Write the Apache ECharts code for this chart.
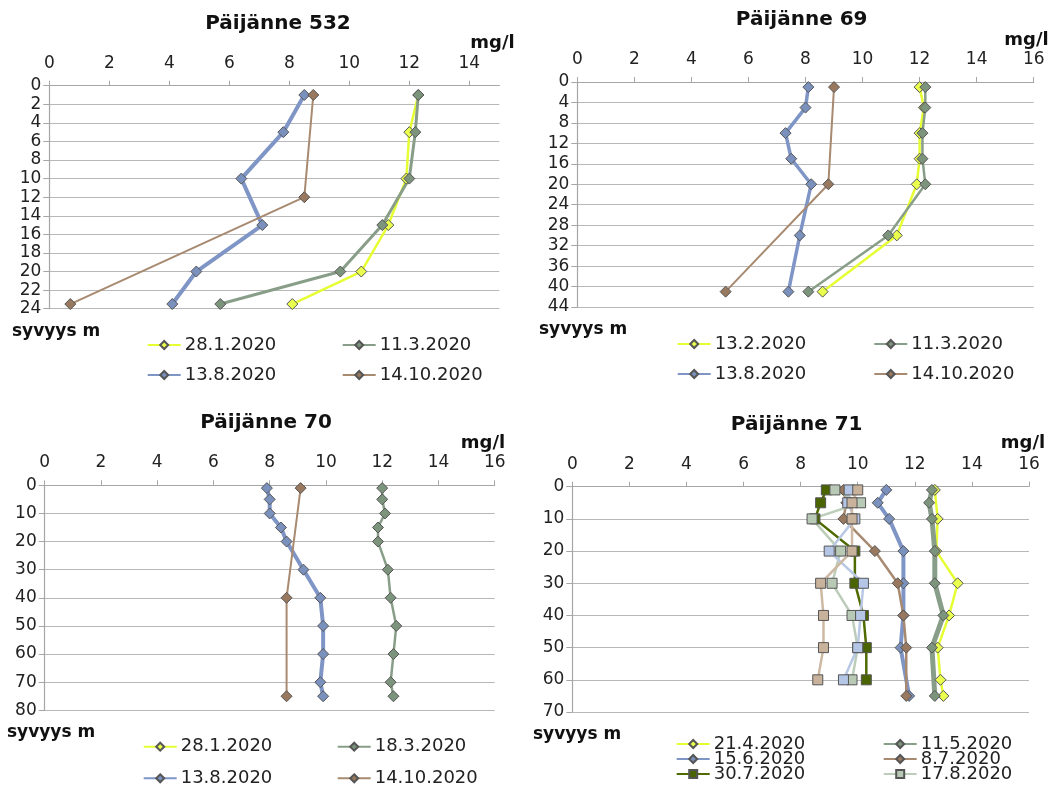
<!DOCTYPE html>
<html>
<head>
<meta charset="utf-8">
<title>Päijänne happi</title>
<script src="https://cdn.jsdelivr.net/npm/echarts@6/dist/echarts.min.js"></script>
<style>
  html, body { margin: 0; padding: 0; background: #fff; }
  #chart { width: 1053px; height: 802px; }
</style>
</head>
<body>
<div id="chart"></div>
<script>
// Päijänne 532
const depth532 = [1, 5, 10, 15, 20, 23.5];
const p532_280120 = [12.3, 12.0, 11.9, 11.3, 10.4, 8.1];
const p532_110320 = [12.3, 12.2, 12.0, 11.1, 9.7, 5.7];
const p532_130820 = [8.5, 7.8, 6.4, 7.1, 4.9, 4.1];
const depth532_141020 = [1, 12, 23.5];
const p532_141020 = [8.8, 8.5, 0.7];

// Päijänne 69
const depth69 = [1, 5, 10, 15, 20, 30, 41];
const p69_130220 = [12.0, 12.15, 12.0, 12.0, 11.9, 11.2, 8.6];
const p69_110320 = [12.2, 12.2, 12.1, 12.1, 12.2, 10.9, 8.1];
const p69_130820 = [8.1, 8.0, 7.3, 7.5, 8.2, 7.8, 7.4];
const depth69_141020 = [1, 20, 41];
const p69_141020 = [9.0, 8.8, 5.2];

// Päijänne 70
const depth70 = [1, 5, 10, 15, 20, 30, 40, 50, 60, 70, 75];
const p70_280120 = [];
const p70_180320 = [12.0, 12.0, 12.1, 11.85, 11.85, 12.2, 12.3, 12.5, 12.4, 12.3, 12.4];
const p70_130820 = [7.9, 8.0, 8.0, 8.4, 8.6, 9.2, 9.8, 9.9, 9.9, 9.8, 9.9];
const depth70_141020 = [1, 40, 75];
const p70_141020 = [9.1, 8.6, 8.6];

// Päijänne 71
const depth71a = [1, 10, 20, 30, 40, 50, 60, 65];
const depth71b = [1, 5, 10, 20, 30, 40, 50, 65];
const depth71c = [1, 5, 10, 20, 30, 40, 50, 60];
const p71_210420 = [12.7, 12.8, 12.75, 13.5, 13.2, 12.8, 12.9, 13.0];
const p71_110520 = [12.6, 12.5, 12.6, 12.7, 12.7, 13.0, 12.6, 12.7];
const p71_150620 = [11.0, 10.7, 11.1, 11.6, 11.6, 11.6, 11.5, 11.8];
const p71_080720 = [9.5, 9.6, 9.5, 10.6, 11.4, 11.6, 11.7, 11.7];
const p71_300720 = [8.9, 8.7, 8.5, 9.9, 9.9, 10.2, 10.3, 10.3];
const p71_170820 = [9.2, 10.1, 8.4, 9.4, 9.1, 9.8, 10.0, 9.8];
const p71_s7 = [9.7, 9.65, 9.9, 9.0, 10.2, 10.1, 10.0, 9.5];
const p71_s8 = [10.0, 9.8, 9.8, 9.8, 8.7, 8.8, 8.8, 8.6];

// axes
const xMax = [15, 16, 16, 16];
const yMax = [24, 44, 80, 70];
const yStep = [2, 4, 10, 10];
const titles = ["Päijänne 532", "Päijänne 69", "Päijänne 70", "Päijänne 71"];

// legends
const legend532 = ["28.1.2020", "11.3.2020", "13.8.2020", "14.10.2020"];
const legend69 = ["13.2.2020", "11.3.2020", "13.8.2020", "14.10.2020"];
const legend70 = ["28.1.2020", "18.3.2020", "13.8.2020", "14.10.2020"];
const legend71 = ["21.4.2020", "11.5.2020", "15.6.2020", "8.7.2020", "30.7.2020", "17.8.2020"];

const FONT = "DejaVu Sans";

const C = {
  yellow: ["#e6ff33", "#eaff4d"],
  gray: ["#889e88", "#7c937c"],
  blue: ["#7e95c6", "#7a90bd"],
  brown: ["#a88a70", "#98795f"],
  olive: ["#4f6b00", "#4a6500"],
  lgray: ["#bccdb9", "#b8c9b6"],
  lblue: ["#b9c8e4", "#b4c5e6"],
  beige: ["#cdb9a3", "#c8b29b"]
};

function pts(depths, values) {
  return values.map((v, i) => [v, depths[i]]);
}

function line(name, idx, depths, values, col, width, symbol) {
  return {
    name: name,
    type: "line",
    xAxisIndex: idx,
    yAxisIndex: idx,
    data: pts(depths, values),
    symbol: symbol || "diamond",
    symbolSize: symbol === "rect" ? 10 : 11,
    lineStyle: { color: col[0], width: width },
    itemStyle: { color: col[1], borderColor: "#555", borderWidth: 1 },
    emphasis: { disabled: true },
    animation: false
  };
}

const grids = [
  { left: 49.3, top: 85.7, width: 450, height: 223 },
  { left: 577.3, top: 82, width: 456.4, height: 225 },
  { left: 44.7, top: 485.3, width: 450, height: 225 },
  { left: 572.3, top: 486.7, width: 456.7, height: 225.3 }
];

const axisGray = "#a6a6a6";

const xAxes = grids.map((g, i) => ({
  type: "value",
  gridIndex: i,
  position: "top",
  min: 0,
  max: xMax[i],
  interval: 2,
  axisLine: { show: true, lineStyle: { color: axisGray, width: 1.2 } },
  axisTick: { show: true, length: 5, lineStyle: { color: axisGray } },
  axisLabel: { fontFamily: FONT, fontSize: 17, color: "#222", margin: 14, showMaxLabel: xMax[i] % 2 === 0 },
  splitLine: { show: false }
}));

const yAxes = grids.map((g, i) => ({
  type: "value",
  gridIndex: i,
  inverse: true,
  min: 0,
  max: yMax[i],
  interval: yStep[i],
  axisLine: { show: true, lineStyle: { color: axisGray, width: 1.2 } },
  axisTick: { show: true, length: 6, lineStyle: { color: axisGray } },
  axisLabel: { fontFamily: FONT, fontSize: 17, color: "#222", margin: 8 },
  splitLine: { show: true, lineStyle: { color: "#b8b8b8", width: 1.2 } }
}));

const series = [
  line(legend532[0], 0, depth532, p532_280120, C.yellow, 2.5),
  line(legend532[1], 0, depth532, p532_110320, C.gray, 3),
  line(legend532[2], 0, depth532, p532_130820, C.blue, 4),
  line(legend532[3], 0, depth532_141020, p532_141020, C.brown, 2),

  line(legend69[0], 1, depth69, p69_130220, C.yellow, 2.5),
  line(legend69[1], 1, depth69, p69_110320, C.gray, 2.5),
  line(legend69[2], 1, depth69, p69_130820, C.blue, 3.5),
  line(legend69[3], 1, depth69_141020, p69_141020, C.brown, 2),

  line(legend70[0], 2, depth70, p70_280120, C.yellow, 2.5),
  line(legend70[1], 2, depth70, p70_180320, C.gray, 2.5),
  line(legend70[2], 2, depth70, p70_130820, C.blue, 4),
  line(legend70[3], 2, depth70_141020, p70_141020, C.brown, 2),

  line(legend71[0], 3, depth71a, p71_210420, C.yellow, 2.5),
  line(legend71[1], 3, depth71b, p71_110520, C.gray, 5),
  line(legend71[2], 3, depth71b, p71_150620, C.blue, 4),
  line(legend71[3], 3, depth71b, p71_080720, C.brown, 2.5),
  line(legend71[4], 3, depth71c, p71_300720, C.olive, 2.5, "rect"),
  line(legend71[5], 3, depth71c, p71_170820, C.lgray, 2.5, "rect"),
  line("sarja 7", 3, depth71c, p71_s7, C.lblue, 2.5, "rect"),
  line("sarja 8", 3, depth71c, p71_s8, C.beige, 2.5, "rect")
];

// legend slots: [name, left of icon, row center]
function slots(names, cols, rows) {
  return names.map((n, i) => [n, cols[i % 2], rows[Math.floor(i / 2)]]);
}
const legendSlots = []
  .concat(slots(legend532, [146.7, 341.7], [346, 376]))
  .concat(slots(legend69, [676.7, 873.3], [345, 375]))
  .concat(slots(legend70, [142.7, 336.7], [747.7, 779.3]))
  .concat(slots(legend71, [675.7, 882.7], [745, 760, 775]));

const legends = legendSlots.map(s => ({
  data: [s[0]],
  left: s[1],
  top: s[2] - 10,
  padding: 0,
  itemWidth: 33,
  itemHeight: 10,
  itemGap: 0,
  selectedMode: false,
  textStyle: { fontFamily: FONT, fontSize: 18, color: "#222", padding: [0, 0, 0, -1] }
}));

// titles and axis names
const titlePos = [[278, 24], [801.7, 20], [266, 423], [796.7, 425]];
const unitPos = [[492.5, 43], [1026.5, 40], [483, 443], [1023, 443]];
const depthPos = [[12, 332], [539, 330], [7, 733], [533, 735]];

const texts = [];
titlePos.forEach((p, i) => texts.push({
  type: "text", x: p[0], y: p[1],
  style: { text: titles[i], fontFamily: FONT, fontWeight: "bold", fontSize: 20, fill: "#111", align: "center", verticalAlign: "middle" }
}));
unitPos.forEach(p => texts.push({
  type: "text", x: p[0], y: p[1],
  style: { text: "mg/l", fontFamily: FONT, fontWeight: "bold", fontSize: 18, fill: "#111", align: "center", verticalAlign: "middle" }
}));
depthPos.forEach(p => texts.push({
  type: "text", x: p[0], y: p[1],
  style: { text: "syvyys m", fontFamily: FONT, fontWeight: "bold", fontSize: 17, fill: "#111", align: "left", verticalAlign: "middle" }
}));

const myChart = echarts.init(document.getElementById("chart"));
myChart.setOption({
  backgroundColor: "#fff",
  animation: false,
  grid: grids,
  xAxis: xAxes,
  yAxis: yAxes,
  legend: legends,
  graphic: texts,
  series: series
});
</script>
</body>
</html>
